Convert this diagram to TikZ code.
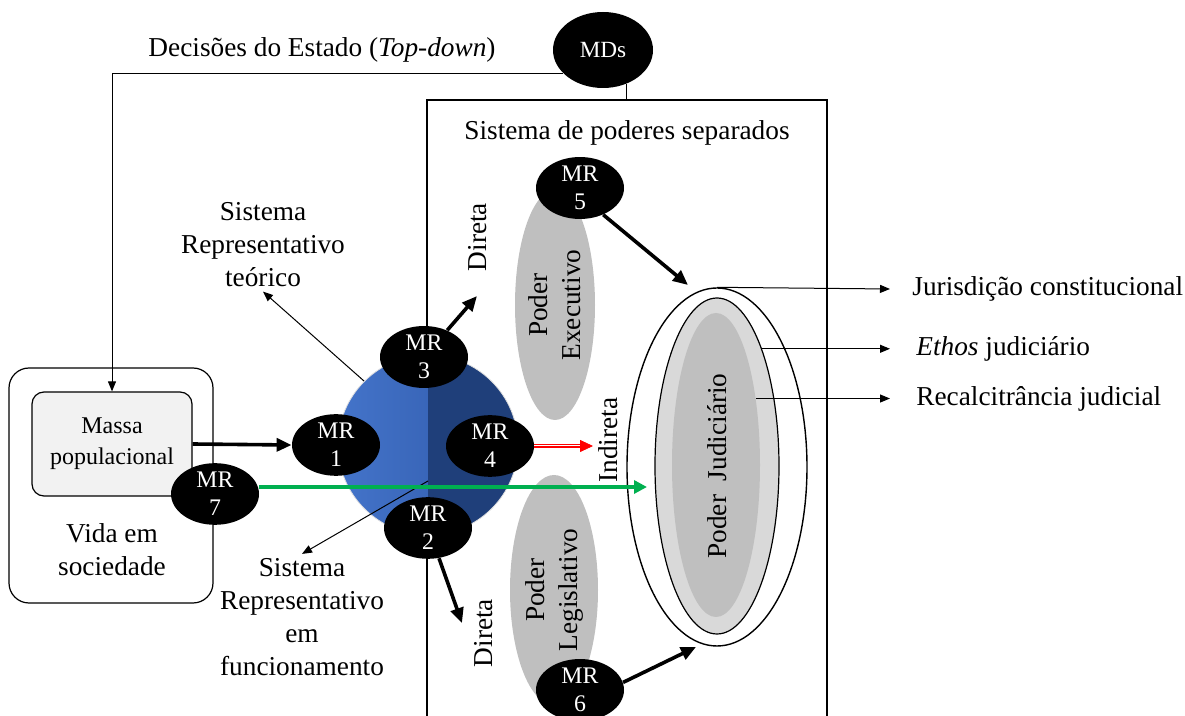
\documentclass[tikz,border=0pt]{standalone}
\usepackage{fontspec}
\setmainfont{Liberation Serif}
\usetikzlibrary{arrows.meta}
\usetikzlibrary{shapes.geometric}
\usetikzlibrary{positioning}

\definecolor{azulclaro}{RGB}{68,116,202}
\definecolor{azulmedio}{RGB}{46,88,168}
\definecolor{azulescuro}{RGB}{31,63,122}
\definecolor{verdeMR}{RGB}{0,176,80}
\definecolor{cinzaPoder}{RGB}{191,191,191}
\definecolor{cinzaClaro}{RGB}{217,217,217}
\definecolor{cinzaMassa}{RGB}{242,242,242}

\tikzset{
  mr/.style={ellipse, fill=black, text=white, inner sep=0pt, minimum width=44pt, minimum height=30pt, align=center, font=\fontsize{11.9}{14}\selectfont},
  poder/.style={ellipse, fill=cinzaPoder, inner sep=0pt, rotate=90, align=center},
  fina/.style={-{Triangle[length=5pt,width=4pt]}, line width=0.5pt},
  grossa/.style={-{Triangle[length=7.5pt,width=6.5pt]}, line width=1.8pt},
  rotulo/.style={align=center, inner sep=2pt}
}

\begin{document}
\begin{tikzpicture}[x=0.5pt, y=-0.5pt, every node/.style={font=\fontsize{13.65}{16.5}\selectfont}]
        \useasboundingbox (0,0) rectangle (1185,716);
        % sistema de poderes separados
        \draw [line width=1.2pt] (427,716) -- (427,100) coordinate (cx1) -- (827,100) -- (827,716);
        \node (tsep) at (627,133) {Sistema de poderes separados};
        % vida em sociedade
        \node [draw, rounded corners=10pt, line width=0.6pt, minimum width=102pt, minimum height=117.5pt] (vida) at (111,485.5) {};
        \node [draw, rounded corners=6pt, line width=0.6pt, fill=cinzaMassa, minimum width=80pt, minimum height=52pt, align=center, font=\fontsize{12}{15.5}\selectfont] (massa) at (112,444) {Massa\\populacional};
        \node [align=center] (tvida) at (112,550) {Vida em\\sociedade};
        % sistema representativo
        \node [circle, minimum size=90pt, inner sep=0pt, draw=black!12,
               path picture={
                 \shade [left color=azulclaro, right color=azulmedio] (path picture bounding box.south west) rectangle (path picture bounding box.north);
                 \fill [azulescuro] (path picture bounding box.south) rectangle (path picture bounding box.north east);
               }] (sistema) at (428,445) {};
        % poderes
        \node [poder, minimum width=115pt, minimum height=40pt] (exec) at (555,305) {Poder\\Executivo};
        \node [poder, minimum width=115pt, minimum height=44pt] (legis) at (554,590) {Poder\\Legislativo};
        \node [ellipse, draw, line width=0.7pt, fill=white, inner sep=0pt, minimum width=90pt, minimum height=179pt] (judext) at (717,467) {};
        \node [ellipse, draw, line width=0.6pt, fill=cinzaClaro, inner sep=0pt, minimum width=62pt, minimum height=168pt] (judmed) at (717,466) {};
        \node [ellipse, fill=cinzaPoder, inner sep=0pt, minimum width=44pt, minimum height=152pt] (judint) at (716,465) {};
        \node [rotate=90] (tjud) at (717,466) {Poder\ \ Judiciário};
        % mecanismos
        \node [mr, minimum width=50pt, minimum height=38pt, font=\fontsize{11.6}{13}\selectfont] (mds) at (603,50) {MDs};
        \foreach \n/\px/\py in {1/336/445, 2/428/528, 3/424/357, 4/490/446, 5/580/188, 6/580/690, 7/215/494}
          \node [mr] (mr\n) at (\px,\py) {MR\\\n};
        % textos
        \node (tdec) at (322,50) {Decisões do Estado (\textit{Top-down})};
        \node [rotulo] (tteo) at (263,245) {Sistema\\Representativo\\teórico};
        \node [rotulo] (tfun) at (302,617) {Sistema\\Representativo\\em\\funcionamento};
        \node [rotate=90] (tdir1) at (478,237) {Direta};
        \node [rotate=90] (tdir2) at (484,633) {Direta};
        \node [rotate=90] (tind) at (608,440) {Indireta};
        % ligacoes
        \draw [fina] (mds.210) -| (massa.north);
        \draw [line width=0.5pt] (mds.-56) -- (mds.-56 |- cx1);
        \draw [grossa] (massa.east) -- (mr1.west);
        \draw [fina] (sistema.135) -- (tteo.south);
        \coordinate (pfun) at (428,481);
        \draw [fina] (pfun) -- (tfun.north);
        \coordinate (p3) at (477,296);
        \draw [grossa] (mr3.49) -- (p3);
        \coordinate (p2) at (462,623);
        \draw [grossa] (mr2.-70) -- (p2);
        \coordinate (p5) at (688,285);
        \draw [grossa] (mr5.-49) -- (p5);
        \coordinate (p6) at (696,647);
        \draw [grossa] (mr6.10) -- (p6);
        % indireta
        \coordinate (pind0) at (580,446);
        \coordinate (pind) at (593,446);
        \draw [red, line width=2.4pt] (mr4.east) -- (pind0);
        \draw [white, line width=1.4pt] (mr4.east) -- (pind0);
        \draw [red, line width=0.4pt, -{Triangle[length=6.5pt,width=6pt]}] (mr4.east) -- (pind);
        % MR 7
        \coordinate (pverde) at (647,487);
        \draw [verdeMR, line width=1.65pt, -{Triangle[length=6.5pt,width=6.5pt]}] (mr7.east |- pverde) -- (pverde);
        % judiciario
        \coordinate (pjur) at (890,289);
        \coordinate (peth) at (judmed.69 -| pjur);
        \coordinate (prec) at (judint.59 -| pjur);
        \draw [fina] (judext.north) -- (pjur);
        \draw [fina] (judmed.69) -- (peth);
        \draw [fina] (judint.59) -- (prec);
        \node [right=11pt of pjur, inner sep=0pt] (tjur) {Jurisdição constitucional};
        \node [right=13pt of peth, inner sep=0pt] (teth) {\textit{Ethos} judiciário};
        \node [right=13pt of prec, inner sep=0pt] (trec) {Recalcitrância judicial};
\end{tikzpicture}
\end{document}
